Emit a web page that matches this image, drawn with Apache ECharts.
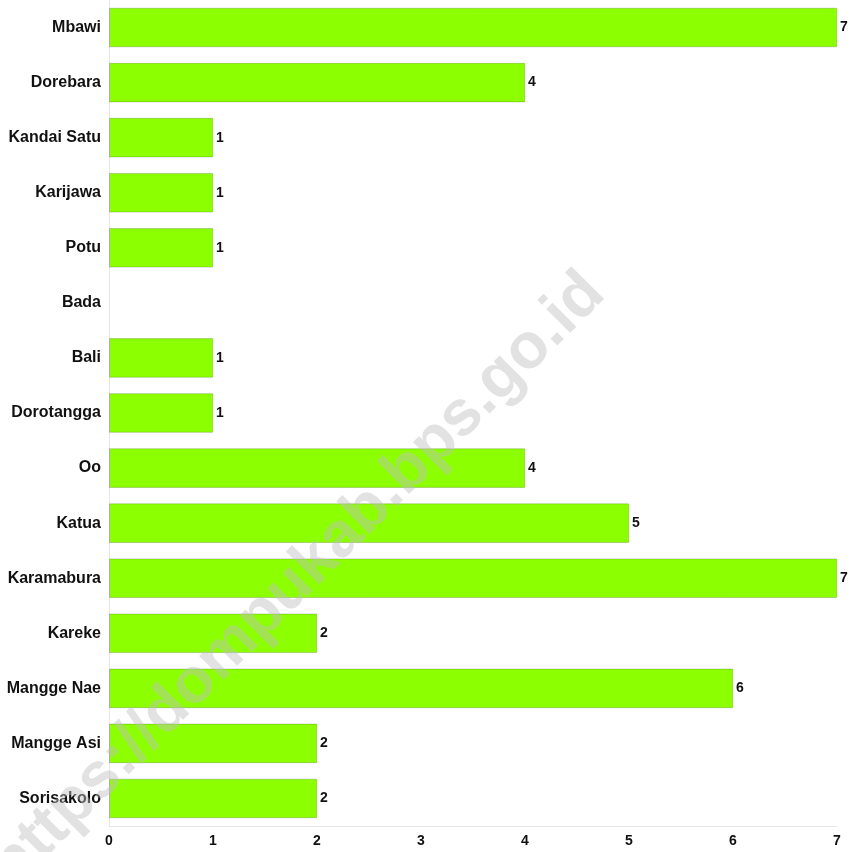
<!DOCTYPE html>
<html>
<head>
<meta charset="utf-8">
<script src="https://cdn.jsdelivr.net/npm/echarts@6/dist/echarts.min.js"></script>
<style>html,body{margin:0;padding:0;background:#fff;}#c{width:854px;height:852px;}</style>
</head>
<body>
<div id="c"></div>
<script>
const categories = ["Mbawi","Dorebara","Kandai Satu","Karijawa","Potu","Bada","Bali","Dorotangga","Oo","Katua","Karamabura","Kareke","Mangge Nae","Mangge Asi","Sorisakolo"];
const values = [7,4,1,1,1,0,1,1,4,5,7,2,6,2,2];
const xTicks = [0,1,2,3,4,5,6,7];
const watermark = "https://dompukab.bps.go.id";

const chart = echarts.init(document.getElementById('c'));
const font = 'Liberation Sans, Arial, Helvetica, sans-serif';
chart.setOption({
  backgroundColor: '#ffffff',
  animation: false,
  grid: {left: 109, right: 17, top: 0, bottom: 26, containLabel: false},
  xAxis: {
    type: 'value', min: xTicks[0], max: xTicks[xTicks.length-1], interval: 1,
    axisLine: {show: true, lineStyle: {color: '#e6e6e6', width: 1}},
    axisTick: {show: false},
    splitLine: {show: false},
    axisLabel: {color: '#111', fontWeight: 'bold', fontSize: 14, fontFamily: font, margin: 8}
  },
  yAxis: {
    type: 'category', data: categories, inverse: true,
    axisLine: {show: true, lineStyle: {color: '#e6e6e6', width: 1}},
    axisTick: {show: false},
    axisLabel: {color: '#111', fontWeight: 'bold', fontSize: 16, fontFamily: font, margin: 8}
  },
  series: [{
    type: 'bar',
    data: values.map(v => v === 0 ? {value: v, itemStyle: {borderWidth: 0}} : v),
    barWidth: '72%',
    itemStyle: {color: '#8cff00', borderColor: 'rgba(0,0,0,0.18)', borderWidth: 1},
    label: {
      show: true, position: 'right', distance: 3,
      color: '#111', fontWeight: 'bold', fontSize: 14, fontFamily: font,
      formatter: p => p.value === 0 ? '' : String(p.value)
    }
  }],
  graphic: [{
    type: 'text',
    z: 100,
    x: 298, y: 580,
    rotation: Math.PI / 4,
    style: {
      text: watermark,
      font: 'bold 64px ' + font,
      fill: 'rgba(190,190,190,0.45)',
      align: 'center',
      verticalAlign: 'middle'
    }
  }]
});
</script>
</body>
</html>
